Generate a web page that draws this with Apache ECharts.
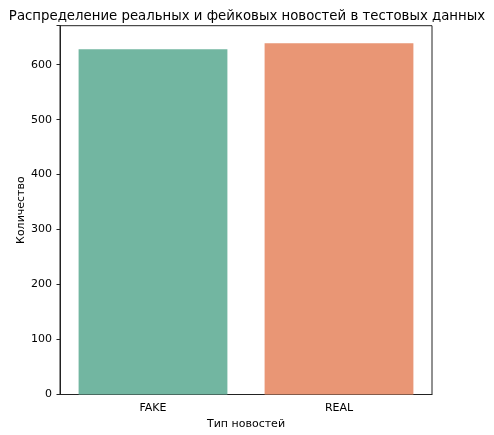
<!DOCTYPE html>
<html>
<head>
<meta charset="utf-8">
<script src="https://cdn.jsdelivr.net/npm/echarts@6/dist/echarts.min.js"></script>
<style>html,body{margin:0;padding:0;background:#fff}#c{width:494px;height:435px}</style>
</head>
<body>
<div id="c"></div>
<script>
const categories = ["FAKE", "REAL"];
const counts = [628, 639];
const barColors = ["#72b6a1", "#e99675"];
const yTicks = [0, 100, 200, 300, 400, 500, 600];

const chart = echarts.init(document.getElementById('c'), null, {renderer: 'canvas'});
const font = 'DejaVu Sans';
chart.setOption({
  animation: false,
  title: {
    text: 'Распределение реальных и фейковых новостей в тестовых данных',
    left: 'center', top: 5,
    textStyle: {fontFamily: font, fontSize: 13.3, fontWeight: 'normal', color: '#000'}
  },
  grid: {left: 60, right: 62, top: 25.7, bottom: 40.5, show: true, borderColor: '#222', borderWidth: 1, containLabel: false},
  xAxis: {
    type: 'category', data: categories,
    name: 'Тип новостей', nameLocation: 'middle', nameGap: 24, nameMoveOverlap: false,
    nameTextStyle: {fontFamily: font, fontSize: 11, color: '#000'},
    axisLine: {lineStyle: {color: '#222'}},
    axisTick: {alignWithLabel: true, length: 3.5, lineStyle: {color: '#222'}},
    axisLabel: {fontFamily: font, fontSize: 11, color: '#000', margin: 8}
  },
  yAxis: {
    type: 'value', min: 0, max: 670.95, interval: 100,
    name: 'Количество', nameLocation: 'middle', nameGap: 33, nameMoveOverlap: false,
    nameTextStyle: {fontFamily: font, fontSize: 11, color: '#000'},
    axisLine: {show: true, lineStyle: {color: '#222'}},
    axisTick: {show: true, length: 3.5, lineStyle: {color: '#222'}},
    splitLine: {show: false},
    axisLabel: {fontFamily: font, fontSize: 11, color: '#000', margin: 8,
      formatter: v => yTicks.includes(v) ? String(v) : ''}
  },
  series: [{
    type: 'bar', barCategoryGap: '20%',
    data: counts.map((v, i) => ({value: v, itemStyle: {color: barColors[i]}}))
  }]
});
</script>
</body>
</html>
